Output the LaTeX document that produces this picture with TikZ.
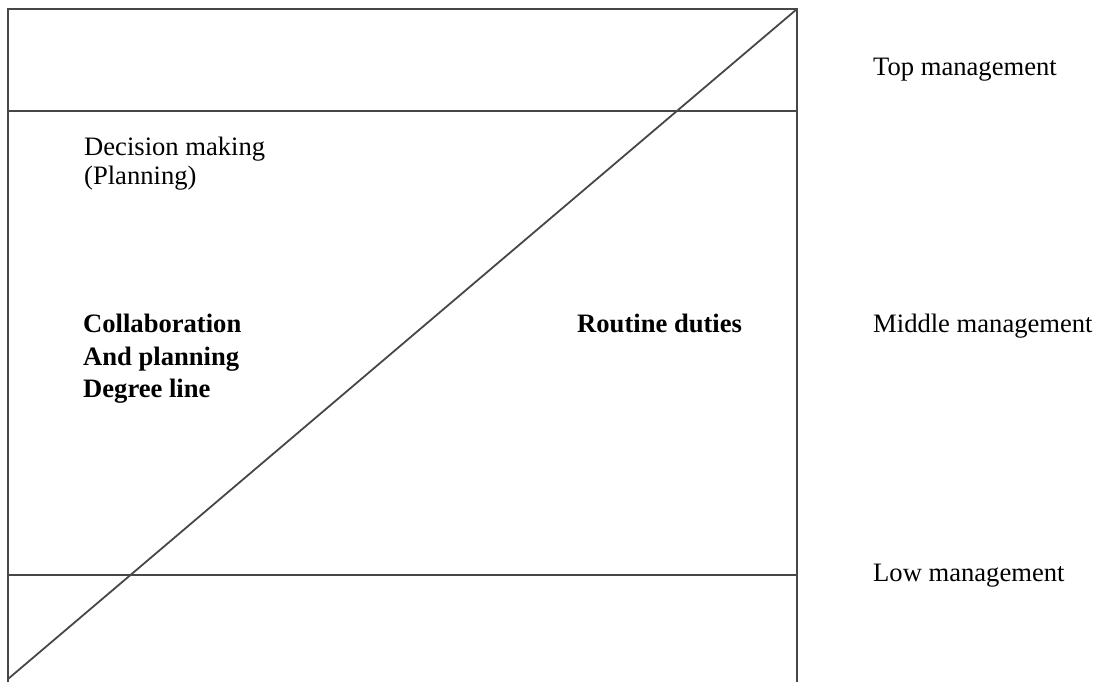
\documentclass[tikz,border=0pt]{standalone}
\usepackage{fontspec}
\setmainfont{Liberation Serif}
\usetikzlibrary{positioning}

\begin{document}
\begin{tikzpicture}[
  x=1pt, y=-1pt,
  every node/.style={anchor=base west, inner sep=0, font=\fontsize{26.6}{32}\selectfont},
  level line/.style={line width=1.8pt, draw=black!72}
]
\useasboundingbox (0,0) rectangle (1103,681);

% corners of the frame and where the level lines meet it
\coordinate (tl) at (8,9);
\coordinate (tr) at (797,9);
\coordinate (bl) at (8,683);
\coordinate (br) at (797,683);
\coordinate (ul) at (8,111);
\coordinate (ur) at (797,111);
\coordinate (ll) at (8,575);
\coordinate (lr) at (797,575);
\coordinate (diag) at (8,679);

\draw[level line] (bl) -- (tl) -- (tr) -- (br);
\draw[level line] (ul) -- (ur);
\draw[level line] (ll) -- (lr);
\draw[level line] (diag) -- (tr);

\node (decision) at (84,155) {Decision making};
\node (planning) at (84,184) {(Planning)};

\node (collab) at (83,332) {\bfseries Collaboration};
\node (andplan) at (83,365) {\bfseries And planning};
\node (degree) at (83,397) {\bfseries Degree line};

\node (routine) at (577,332) {\bfseries Routine duties};

\node (top) at (873,75) {Top management};
\node (middle) at (873,332) {Middle management};
\node (low) at (873,581) {Low management};

\end{tikzpicture}
\end{document}
